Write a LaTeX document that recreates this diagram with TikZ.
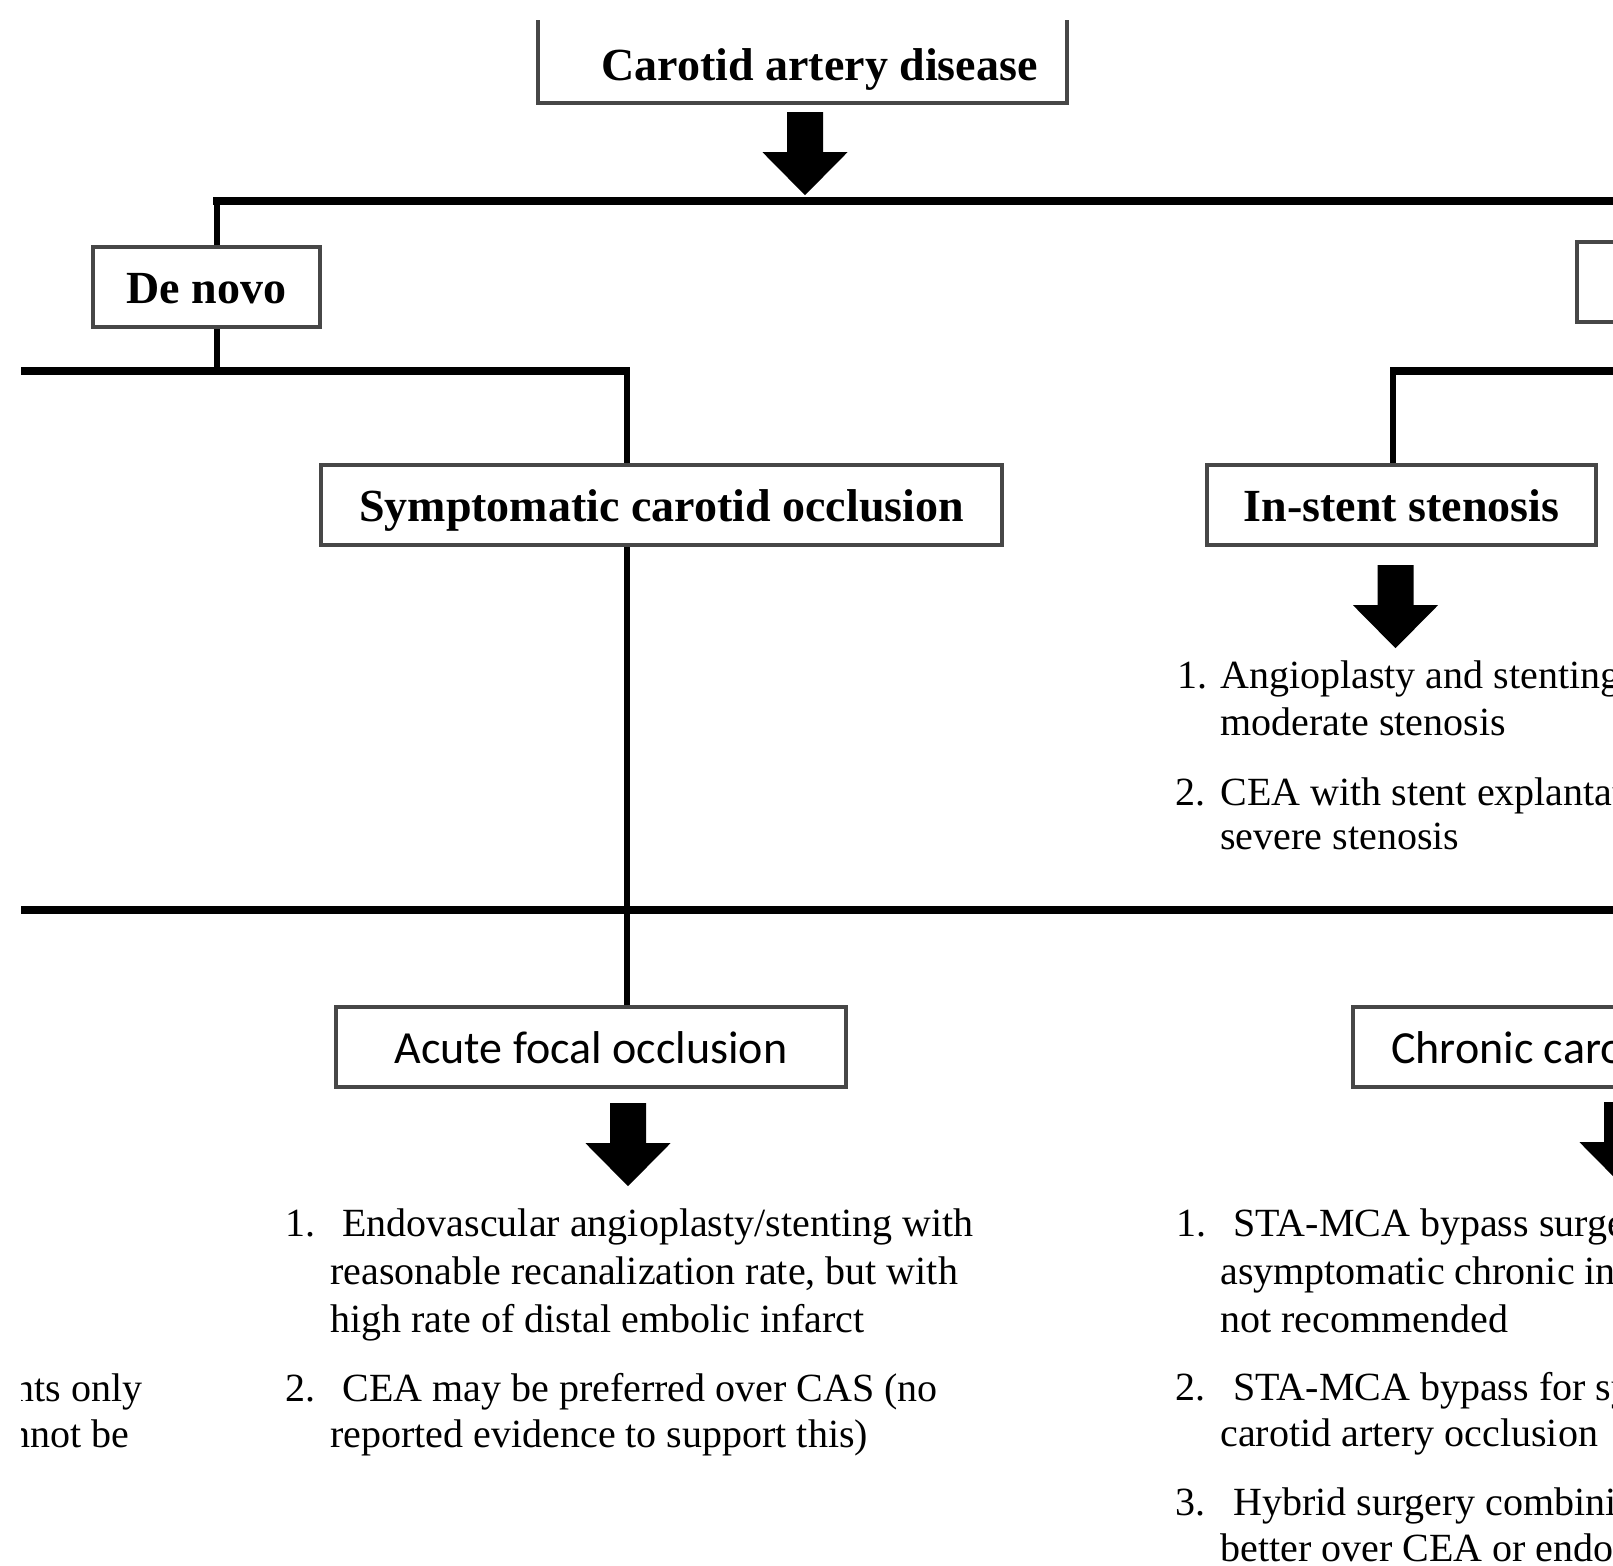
\documentclass[tikz,border=0pt]{standalone}
\usepackage{fontspec}
\setmainfont{Liberation Serif}
\newfontfamily\labelsans{Carlito}
\usetikzlibrary{calc}
\newcommand\myblockarrow[1]{\fill[black] ($(#1)+(-18,0)$) -- ++(36,0) -- ++(0,40) -- ++(24.5,0) -- ++(-42.5,43) -- ++(-42.5,-43) -- ++(24.5,0) -- cycle;}
\begin{document}
\begin{tikzpicture}[x=0.5pt,y=-0.5pt,
  boxnode/.style={draw=black!72, line width=2.2pt, fill=white, inner sep=0pt, minimum height=40pt, text height=18pt, text depth=1.5pt},
  serifbold/.style={font=\fontsize{23}{27}\selectfont\bfseries},
  sanslabel/.style={font=\labelsans\fontsize{23}{27}\selectfont},
  thickline/.style={line width=4pt},
  conn/.style={line width=3pt},
  li/.style={anchor=base west, inner sep=0pt, font=\fontsize{20}{24}\selectfont},
  lie/.style={anchor=base east, inner sep=0pt, font=\fontsize{20}{24}\selectfont}]
\useasboundingbox (0,0) rectangle (1613,1565);
\begin{scope}
\clip (21,20) rectangle (1613,1565);
% boxes
\node[boxnode,serifbold,minimum width=264.5pt,minimum height=44pt,text height=22pt,text depth=1pt] (top) at (802.5,59) {\hspace{17pt}Carotid artery disease};
\node[boxnode,serifbold,minimum width=113.5pt] (denovo) at (206.5,287) {De novo};
\node[boxnode,minimum width=111.5pt] (rbox) at (1688.5,282) {};
\node[boxnode,serifbold,minimum width=340.5pt] (symp) at (661.5,505) {Symptomatic carotid occlusion};
\node[boxnode,serifbold,minimum width=194.5pt] (instent) at (1401.5,505) {In-stent stenosis};
\node[boxnode,sanslabel,minimum width=255pt] (acute) at (591,1047) {Acute focal occlusion};
\node[boxnode,sanslabel,anchor=west,inner xsep=19pt] (chronic) at (1351,1047) {Chronic carotid occlusion\hspace{60pt}};
% connectors
\coordinate (j1) at (217,201);
\coordinate (e1) at (1700,201);
\draw[thickline] ($(j1)+(-4,0)$) -- (e1);
\draw[conn] (j1) -- (denovo.north -| j1);
\coordinate (j2) at (217,371);
\draw[conn] (denovo.south -| j2) -- (j2);
\coordinate (w2) at (0,371);
\coordinate (j3) at (627,371);
\draw[thickline] (w2) -- ($(j3)+(3,0)$);
\draw[conn] (j3) -- (symp.north -| j3);
\coordinate (j4) at (1393,371);
\coordinate (e2) at (1700,371);
\draw[thickline] ($(j4)+(-3,0)$) -- (e2);
\draw[conn] (j4) -- (instent.north -| j4);
\draw[conn] (symp.south -| j3) -- (acute.north -| j3);
\coordinate (w3) at (0,910);
\coordinate (e3) at (1700,910);
\draw[thickline] (w3) -- (e3);
% block arrows
\coordinate (a1) at ($(top.south)+(2.5,7)$);
\myblockarrow{a1}
\coordinate (a2) at ($(instent.south)+(-6,18)$);
\myblockarrow{a2}
\coordinate (a3) at ($(acute.south)+(37,14)$);
\myblockarrow{a3}
\coordinate (a4) at ($(chronic.south west)+(271,13)$);
\myblockarrow{a4}
% left fragments
\node[lie] (lf1) at (143,1401) {patients only};
\node[lie] (lf2) at (130,1447) {cannot be};
% in-stent list
\node[li] (i1n) at (1177,688) {1.};
\node[li] (i1a) at (1220,688) {Angioplasty and stenting for};
\node[li] (i1b) at (1220,735) {moderate stenosis};
\node[li] (i2n) at (1175,805) {2.};
\node[li] (i2a) at (1220,805) {CEA with stent explantation for};
\node[li] (i2b) at (1220,849) {severe stenosis};
% acute list
\node[li] (x1n) at (285,1236) {1.};
\node[li] (x1a) at (342,1236) {Endovascular angioplasty/stenting with};
\node[li] (x1b) at (330,1284) {reasonable recanalization rate, but with};
\node[li] (x1c) at (330,1332) {high rate of distal embolic infarct};
\node[li] (x2n) at (285,1401) {2.};
\node[li] (x2a) at (342,1401) {CEA may be preferred over CAS (no};
\node[li] (x2b) at (330,1447) {reported evidence to support this)};
% chronic list
\node[li] (c1n) at (1176,1236) {1.};
\node[li] (c1a) at (1233,1236) {STA-MCA bypass surgery for};
\node[li] (c1b) at (1220,1284) {asymptomatic chronic internal};
\node[li] (c1c) at (1220,1332) {not recommended};
\node[li] (c2n) at (1175,1400) {2.};
\node[li] (c2a) at (1233,1400) {STA-MCA bypass for symptomatic};
\node[li] (c2b) at (1220,1446) {carotid artery occlusion};
\node[li] (c3n) at (1175,1515) {3.};
\node[li] (c3a) at (1233,1515) {Hybrid surgery combining};
\node[li] (c3b) at (1220,1561) {better over CEA or endovascular};
\end{scope}
\end{tikzpicture}
\end{document}
